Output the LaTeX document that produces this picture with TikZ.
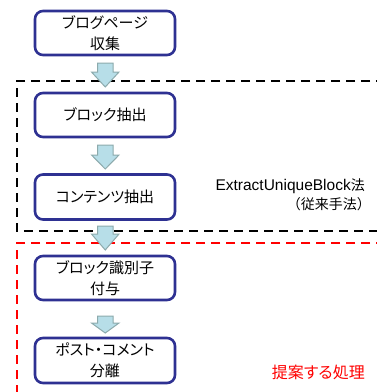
\documentclass[tikz,border=0pt]{standalone}
\usepackage{fontspec}
\setmainfont[RawFeature=+palt]{Noto Sans CJK JP}
\newfontfamily\fullwidthfont{Noto Sans CJK JP}
\newfontfamily\latinfont{Liberation Sans}
\usetikzlibrary{calc}
\definecolor{boxblue}{RGB}{46,49,146}
\definecolor{arrowfill}{RGB}{183,222,232}
\definecolor{arrowdraw}{RGB}{140,170,172}
\definecolor{propred}{RGB}{255,0,0}
\tikzset{
  procbox/.style={draw=boxblue, line width=2.6pt, rounded corners=8pt, fill=white,
    minimum width=140pt, inner sep=0pt, align=center, font=\fontsize{15}{21}\selectfont},
  blockarrow/.style={fill=arrowfill, draw=arrowdraw, line width=1pt, line join=miter},
  groupline/.style={line width=2.6pt, dash pattern=on 9pt off 6pt},
  note/.style={font=\fullwidthfont\fontsize{14}{19}\selectfont, inner sep=0pt, align=right}
}
\newcommand{\blockarr}[3]{%
  \draw[blockarrow] (97.5,#1) -- (113,#1) -- (113,#2) -- (119,#2) -- (105.25,#3)
    -- (91.5,#2) -- (97.5,#2) -- cycle;}
\begin{document}
\begin{tikzpicture}[x=1pt,y=-1pt]
\useasboundingbox (0,0) rectangle (377,392);
\clip (0,0) rectangle (377,392);
% group frames
\draw[groupline, black] (400,81) -- (17,81) -- (17,231) -- (400,231);
\draw[groupline, propred] (400,243) -- (17,243) -- (17,400);
% process boxes
\node[procbox, minimum height=44pt] (b1) at (105,33) {ブログページ\\収集};
\node[procbox, minimum height=44pt] (b2) at (105,115) {ブロック抽出};
\node[procbox, minimum height=45pt] (b3) at (105,197) {コンテンツ抽出};
\node[procbox, minimum height=44pt] (b4) at (105,278) {ブロック識別子\\付与};
\node[procbox, minimum height=45pt] (b5) at (105,360.5) {ポスト・コメント\\分離};
% block arrows
\blockarr{63}{72}{87}
\blockarr{145}{155}{169}
\blockarr{226}{234}{250}
\blockarr{316}{323}{333}
% labels
\node[note, anchor=north east] (l1) at (365,179) {{\latinfont\fontsize{15.5}{19}\selectfont ExtractUniqueBlock}法\\（従来手法）\kern-6pt};
\node[note, anchor=east, text=propred, font=\fontsize{16}{19}\selectfont] (l2) at (365,372) {提案する処理};
\end{tikzpicture}
\end{document}
